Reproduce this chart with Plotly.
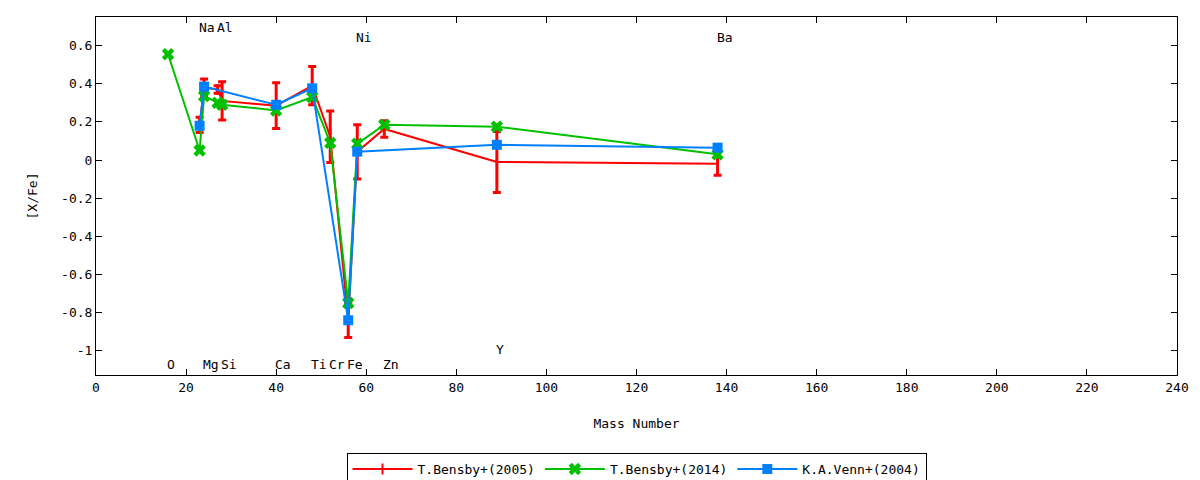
"""
[X/Fe] abundance ratios vs mass number for three literature sources.
"""

import plotly.graph_objects as go

# Mass numbers of the measured elements
bensby05_mass = [23, 24, 27, 28, 40, 48, 52, 56, 58, 64, 89, 138]
bensby05_xfe = [0.185, 0.38, 0.37, 0.31, 0.285, 0.39, 0.122, -0.84, 0.043, 0.163, -0.01, -0.02]
bensby05_err = [0.04, 0.045, 0.02, 0.10, 0.12, 0.10, 0.135, 0.09, 0.142, 0.043, 0.16, 0.06]

bensby14_mass = [16, 23, 24, 27, 28, 40, 48, 52, 56, 58, 64, 89, 138]
bensby14_xfe = [0.555, 0.05, 0.335, 0.30, 0.29, 0.26, 0.33, 0.09, -0.75, 0.085, 0.185, 0.175, 0.03]

venn04_mass = [23, 24, 40, 48, 56, 58, 89, 138]
venn04_xfe = [0.18, 0.385, 0.29, 0.376, -0.84, 0.044, 0.08, 0.065]

# Element labels: name, mass number, label height
label_names = ["Na", "Al", "Ni", "Ba", "O", "Mg", "Si", "Ca", "Ti", "Cr", "Fe", "Zn", "Y"]
label_mass = [23, 27, 58, 138, 16, 24, 28, 40, 48, 52, 56, 64, 89]
label_y = [0.695, 0.695, 0.645, 0.645, -1.07, -1.07, -1.07, -1.07, -1.07, -1.07, -1.07, -1.07, -0.995]

x_ticks = list(range(0, 241, 20))
y_ticks = [0.6, 0.4, 0.2, 0, -0.2, -0.4, -0.6, -0.8, -1]
y_tick_text = ["0.6", "0.4", "0.2", "0", "-0.2", "-0.4", "-0.6", "-0.8", "-1"]

FONT = "DejaVu Sans Mono"

fig = go.Figure()

fig.add_trace(go.Scatter(
    x=bensby05_mass,
    y=bensby05_xfe,
    mode="lines+markers",
    name="T.Bensby+(2005)",
    line={"color": "#ff0000", "width": 2},
    marker={"symbol": "line-ns", "size": 8, "color": "#ff0000",
            "line": {"width": 2, "color": "#ff0000"}},
    error_y={"type": "data", "array": bensby05_err, "visible": True,
             "color": "#ff0000", "thickness": 3, "width": 4},
))

fig.add_trace(go.Scatter(
    x=bensby14_mass,
    y=bensby14_xfe,
    mode="lines+markers",
    name="T.Bensby+(2014)",
    line={"color": "#00c000", "width": 2},
    marker={"symbol": "x", "size": 11, "color": "#00c000"},
))

fig.add_trace(go.Scatter(
    x=venn04_mass,
    y=venn04_xfe,
    mode="lines+markers",
    name="K.A.Venn+(2004)",
    line={"color": "#0080ff", "width": 2},
    marker={"symbol": "square", "size": 10, "color": "#0080ff"},
))

for name, m, yv in zip(label_names, label_mass, label_y):
    fig.add_annotation(
        x=m, y=yv, text=name, showarrow=False,
        xanchor="left", xshift=-3,
        font={"family": FONT, "size": 13, "color": "black"},
    )

axis_common = {
    "showline": True,
    "linecolor": "black",
    "linewidth": 1,
    "mirror": "allticks",
    "ticks": "inside",
    "ticklen": 6,
    "tickcolor": "black",
    "showgrid": False,
    "zeroline": False,
    "tickfont": {"family": FONT, "size": 13, "color": "black"},
}

# page body adds an 8px offset, so margins are shifted to compensate
fig.update_layout(
    width=1200,
    height=480,
    margin={"l": 88, "r": 31, "t": 9, "b": 113, "autoexpand": False},
    plot_bgcolor="white",
    paper_bgcolor="white",
    font={"family": FONT, "size": 13, "color": "black"},
    showlegend=True,
    legend={
        "orientation": "h",
        "x": 0.5,
        "xanchor": "center",
        "y": -0.218,
        "yanchor": "top",
        "bordercolor": "black",
        "borderwidth": 1,
        "font": {"family": FONT, "size": 13},
        "itemwidth": 60,
    },
    xaxis={
        **axis_common,
        "range": [0, 240],
        "tickvals": x_ticks,
        "title": {"text": "Mass Number", "font": {"family": FONT, "size": 13}, "standoff": 25},
    },
    yaxis={
        **axis_common,
        "range": [-1.127, 0.75],
        "tickvals": y_ticks,
        "ticktext": y_tick_text,
        "title": {"text": "[X/Fe]", "font": {"family": FONT, "size": 13}, "standoff": 20},
    },
)

fig.write_html("out.html")
